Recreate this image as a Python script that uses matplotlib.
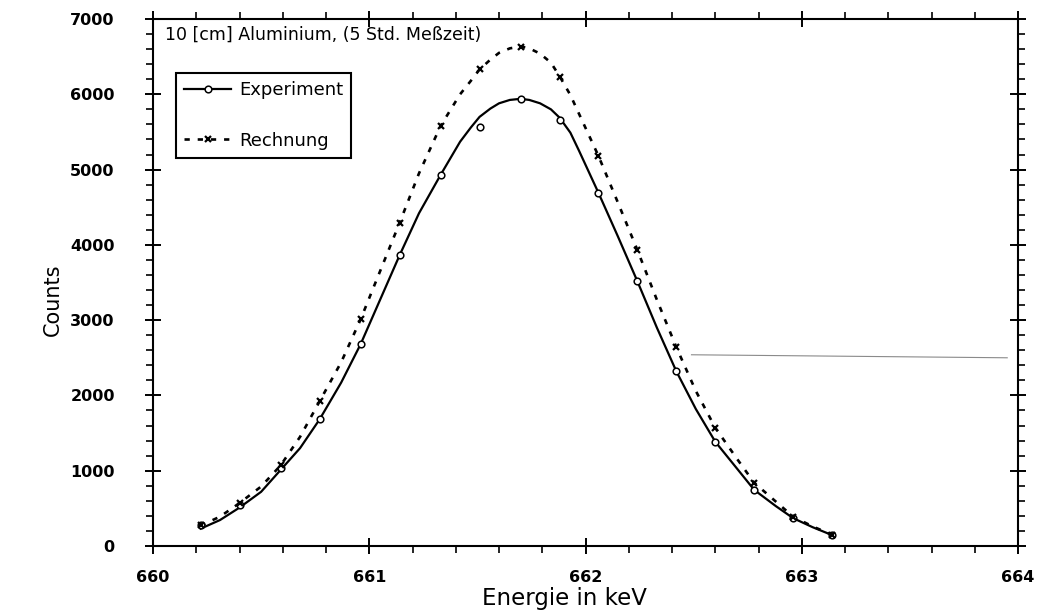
import matplotlib
matplotlib.use("Agg")
import matplotlib.pyplot as plt
from matplotlib.ticker import MultipleLocator

# -----------------------------
# Data
# -----------------------------
# measured channels (keV)
energy = [660.22, 660.40, 660.59, 660.77, 660.96, 661.14, 661.33, 661.51, 661.70,
          661.88, 662.06, 662.24, 662.42, 662.60, 662.78, 662.96, 663.14]
experiment = [280, 550, 1040, 1690, 2680, 3860, 4930, 5570, 5940,
              5665, 4690, 3515, 2320, 1385, 745, 370, 150]
rechnung = [280, 570, 1070, 1920, 3010, 4290, 5580, 6340, 6630,
            6230, 5180, 3930, 2640, 1570, 840, 390, 150]

# fitted curves, sampled more densely than the channels
curve_energy = [660.22, 660.31, 660.40, 660.50, 660.59, 660.68, 660.77, 660.87, 660.96,
                661.05, 661.14, 661.23, 661.33, 661.42, 661.47, 661.51, 661.56, 661.60,
                661.65, 661.70, 661.74, 661.79, 661.84, 661.88, 661.93, 661.97, 662.06,
                662.15, 662.24, 662.33, 662.42, 662.51, 662.60, 662.70, 662.78, 662.88,
                662.96, 663.05, 663.14]
experiment_fit = [230, 345, 510, 720, 1010, 1300, 1680, 2170, 2680,
                  3270, 3860, 4420, 4930, 5370, 5560, 5700, 5810, 5880,
                  5925, 5940, 5925, 5880, 5800, 5690, 5490, 5250, 4690,
                  4110, 3515, 2900, 2320, 1820, 1385, 1030, 745, 530,
                  370, 250, 145]
rechnung_fit = [270, 390, 570, 790, 1070, 1450, 1920, 2440, 3010,
                3650, 4290, 4950, 5580, 6000, 6180, 6330, 6460, 6550,
                6610, 6635, 6610, 6540, 6420, 6240, 5990, 5740, 5180,
                4560, 3930, 3270, 2640, 2060, 1570, 1160, 840, 590,
                390, 260, 150]

# faint scan line across the right half
stray_energy = [662.49, 663.95]
stray_counts = [2540, 2500]

title_text = "10 [cm] Aluminium, (5 Std. Meßzeit)"
x_ticks = [660, 661, 662, 663, 664]
y_ticks = [0, 1000, 2000, 3000, 4000, 5000, 6000, 7000]

# -----------------------------
# Plot
# -----------------------------
plt.rcParams["font.family"] = ["DejaVu Sans"]

DASH = (0, (2.0, 3.0))

fig = plt.figure(figsize=(10.53, 6.13), dpi=100)
ax = fig.add_axes([0.1453, 0.1093, 0.8215, 0.8597])

ax.plot(stray_energy, stray_counts, color="#8a8a8a", lw=0.8, zorder=1)

ax.plot(curve_energy, experiment_fit, color="black", lw=1.6, zorder=2)
ax.plot(curve_energy, rechnung_fit, color="black", lw=1.9,
        linestyle=DASH, zorder=2)
ax.plot(energy, experiment, linestyle="none", marker="o", ms=4.8,
        mfc="white", mec="black", mew=1.1, zorder=3)
ax.plot(energy, rechnung, linestyle="none", marker="x", ms=5,
        color="black", mew=1.6, zorder=3)

# legend proxies: line + marker in one handle
h_exp, = ax.plot([], [], color="black", lw=1.6, marker="o", ms=4.8,
                 mfc="white", mec="black", mew=1.1)
h_rech, = ax.plot([], [], color="black", lw=1.9, linestyle=DASH,
                  marker="x", ms=5, mew=1.6)
leg = ax.legend([h_exp, h_rech], ["Experiment", "Rechnung"],
                loc="upper left", bbox_to_anchor=(0.0266, 0.8975),
                borderaxespad=0, fancybox=False, framealpha=1,
                edgecolor="black", fontsize=13, numpoints=1,
                handlelength=2.6, handletextpad=0.45, labelspacing=1.8,
                borderpad=0.45)
leg.get_frame().set_linewidth(1.5)

ax.text(0.014, 0.988, title_text, transform=ax.transAxes,
        ha="left", va="top", fontsize=12.5)

ax.set_xlim(660, 664)
ax.set_ylim(0, 7000)
ax.set_xticks(x_ticks)
ax.set_yticks(y_ticks)
ax.xaxis.set_minor_locator(MultipleLocator(0.2))
ax.yaxis.set_minor_locator(MultipleLocator(200))

ax.tick_params(which="major", direction="inout", length=11, width=1.4,
               top=True, right=True, labelsize=11.5, pad=12)
ax.tick_params(which="minor", direction="out", length=5, width=1.2,
               top=True, right=True)
ax.tick_params(axis="y", which="major", pad=22)
for lbl in ax.get_xticklabels() + ax.get_yticklabels():
    lbl.set_fontweight("bold")

for sp in ax.spines.values():
    sp.set_linewidth(1.5)

ax.set_xlabel("Energie in keV", fontsize=16.5)
ax.set_ylabel("Counts", fontsize=15)
ax.xaxis.set_label_coords(0.476, -0.078)
ax.yaxis.set_label_coords(-0.104, 0.467)

fig.savefig("out.png", dpi=100)
